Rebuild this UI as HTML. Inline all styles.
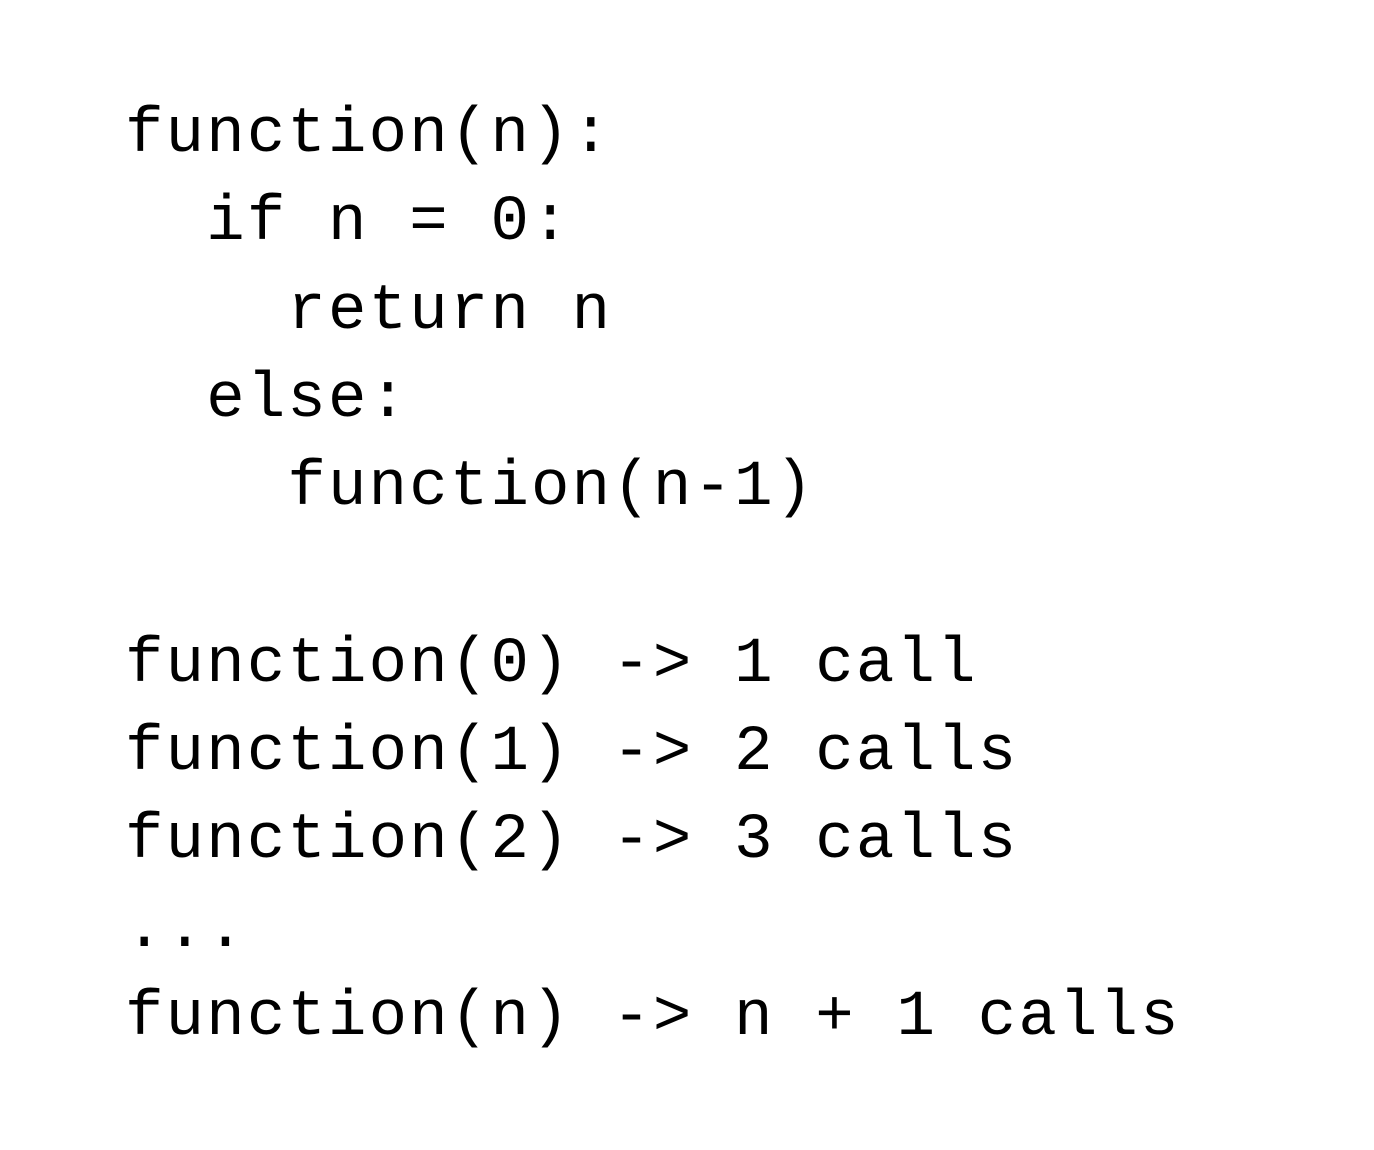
<!DOCTYPE html>
<html><head><meta charset="utf-8"><style>
html,body{margin:0;padding:0;background:#fff;width:1374px;height:1150px;overflow:hidden}
pre{position:absolute;left:125px;top:91px;margin:0;font-family:"Liberation Mono",monospace;font-size:64px;letter-spacing:2.2px;line-height:88.3px;color:#000}
</style></head><body>
<pre>function(n):
  if n = 0:
    return n
  else:
    function(n-1)

function(0) -&gt; 1 call
function(1) -&gt; 2 calls
function(2) -&gt; 3 calls
...
function(n) -&gt; n + 1 calls</pre>
</body></html>
